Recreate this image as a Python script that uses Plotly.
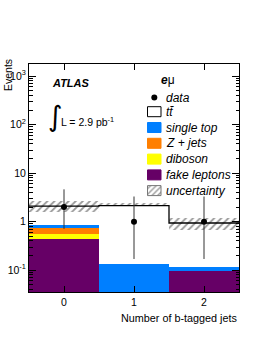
import plotly.graph_objects as go
import numpy as np

# ---- data ----
bins = [0, 1, 2]
bin_edges = [-0.5, 0.5, 1.5, 2.5]
fake_leptons = [0.44, 0.0, 0.096]
diboson = [0.13, 0.0, 0.0]
z_jets = [0.16, 0.0, 0.0]
single_top = [0.11, 0.136, 0.022]
ttbar = [1.26, 2.01, 0.82]
unc_low = [1.58, 2.12, 0.68]
unc_high = [2.70, 2.45, 1.19]
data_y = [2, 1, 1]
data_err_up = [2.64, 2.30, 2.30]
data_err_dn = [1.29, 0.83, 0.83]
ytick_vals = [0.1, 1, 10, 100, 1000]
ytick_text = ["10<sup>-1</sup>", "1", "10", "10<sup>2</sup>", "10<sup>3</sup>"]
xtick_vals = [0, 1, 2]
xtick_text = ["0", "1", "2"]

FONT = "Liberation Sans"
W, H = 262, 339
L, R, T, B = 29, 239, 64, 292

def px(x):
    return (x - L) / (R - L)

def py(y):
    return (B - y) / (B - T)

components = [
    ("fake leptons", fake_leptons, "#660066"),
    ("diboson", diboson, "#ffff00"),
    ("Z + jets", z_jets, "#ff7f00"),
    ("single top", single_top, "#007fff"),
    ("ttbar", ttbar, "#ffffff"),
]

fig = go.Figure()
floor = np.full(3, 1e-4)
cum = floor.copy()
for name, vals, col in components:
    v = np.array(vals, dtype=float)
    fig.add_trace(go.Bar(x=bins, y=v, base=cum.copy(), width=1.0,
                         marker=dict(color=col, line=dict(width=0)),
                         showlegend=False, name=name))
    cum = cum + v
total = cum - floor

# uncertainty band
lo = np.array(unc_low); hi = np.array(unc_high)
fig.add_trace(go.Bar(x=bins, y=hi - lo, base=lo, width=1.0,
                     marker=dict(color="rgba(0,0,0,0)", line=dict(width=0),
                                 pattern=dict(shape="/", fgcolor="#333333",
                                              bgcolor="rgba(0,0,0,0)",
                                              size=5, solidity=0.35)),
                     showlegend=False))

# total step line
fig.add_trace(go.Scatter(x=bin_edges, y=list(total) + [total[-1]],
                         mode="lines", line=dict(color="black", width=1.3, shape="hv"),
                         showlegend=False))

# data
fig.add_trace(go.Scatter(x=bins, y=data_y, mode="markers",
                         marker=dict(color="black", size=6),
                         error_y=dict(type="data", symmetric=False, array=data_err_up,
                                      arrayminus=data_err_dn, color="#333333",
                                      thickness=1, width=0),
                         showlegend=False))

# ---- legend (pixel coordinates on hidden overlay axes) ----
def box(x0, y0, x1, y1):
    return [x0, x1, x1, x0, x0], [y0, y0, y1, y1, y0]

sw_x0, sw_x1 = 147.5, 161
rows = [
    ("t\u0074\u0304", "#ffffff", 111.7),
    ("single top", "#007fff", 127.5),
    ("Z + jets", "#ff7f00", 143.3),
    ("diboson", "#ffff00", 159.1),
    ("fake leptons", "#660066", 174.9),
]
for lab, col, yc in rows:
    bx, by = box(sw_x0, yc - 5, sw_x1, yc + 5)
    fig.add_trace(go.Scatter(x=bx, y=by, xaxis="x2", yaxis="y2", mode="lines",
                             fill="toself", fillcolor=col,
                             line=dict(color="black" if col == "#ffffff" else col, width=1),
                             showlegend=False, hoverinfo="skip"))
bx, by = box(sw_x0, 190.6 - 5, sw_x1, 190.6 + 5)
fig.add_trace(go.Scatter(x=bx, y=by, xaxis="x2", yaxis="y2", mode="lines",
                         fill="toself", fillcolor="rgba(0,0,0,0)",
                         fillpattern=dict(shape="/", fgcolor="#333333",
                                          bgcolor="rgba(0,0,0,0)", size=4, solidity=0.35),
                         line=dict(color="#777777", width=1),
                         showlegend=False, hoverinfo="skip"))
fig.add_trace(go.Scatter(x=[154.3], y=[97.5], xaxis="x2", yaxis="y2", mode="markers",
                         marker=dict(color="black", size=6), showlegend=False))

legend_labels = ["data"] + [r[0] for r in rows] + ["uncertainty"]
legend_y = [97.5] + [r[2] for r in rows] + [190.6]

def txt(x, y, text, size, xanchor="left", family=FONT, angle=0):
    return dict(x=px(x), y=py(y), xref="paper", yref="paper", text=text,
                showarrow=False, xanchor=xanchor, yanchor="middle", textangle=angle,
                font=dict(family=family, size=size, color="black"))

ann = []
for lab, yc in zip(legend_labels, legend_y):
    ann.append(txt(163.5, yc, "<i>%s</i>" % lab, 12))
ann += [
    txt(158.5, 80, "<b><i>e</i></b>\u03bc", 12),
    txt(50, 83, "<b><i>ATLAS</i></b>", 11),
    txt(46, 116, "\u222b", 28, family="DejaVu Sans"),
    txt(59, 121, "L = 2.9 pb<sup>-1</sup>", 10.5),
    txt(8, 75, "Events", 10.5, xanchor="center", angle=-90),
    txt(238.5, 318, "Number of b-tagged jets", 10.8, xanchor="right"),
]

fig.update_layout(
    width=W, height=H,
    margin=dict(l=L, r=W - R, t=T, b=H - B, pad=0, autoexpand=False),
    paper_bgcolor="white", plot_bgcolor="white",
    barmode="overlay", bargap=0,
    showlegend=False,
    font=dict(family=FONT, size=10, color="black"),
    annotations=ann,
    xaxis=dict(range=[-0.5, 2.5], tickvals=xtick_vals, ticktext=xtick_text,
               ticks="inside", ticklen=6, tickcolor="black", showline=True,
               linecolor="black", linewidth=1, mirror="ticks", showgrid=False,
               zeroline=False, automargin=False, tickfont=dict(size=10.5, family=FONT)),
    yaxis=dict(type="log", range=[-1.45, 3.25], tickvals=ytick_vals, ticktext=ytick_text,
               ticks="inside", ticklen=7, tickcolor="black", showline=True,
               linecolor="black", linewidth=1, mirror="ticks", showgrid=False,
               zeroline=False, automargin=False, tickfont=dict(size=10.5, family=FONT),
               minor=dict(ticks="inside", ticklen=3.5, tickcolor="black",
                          dtick="D1", showgrid=False)),
    xaxis2=dict(overlaying="x", range=[L, R], visible=False, showgrid=False, automargin=False),
    yaxis2=dict(overlaying="y", range=[B, T], visible=False, showgrid=False, automargin=False),
)
fig.write_html("out.html", config={"displayModeBar": False},
               post_script="document.body.style.margin='0';document.body.style.overflow='hidden';")
